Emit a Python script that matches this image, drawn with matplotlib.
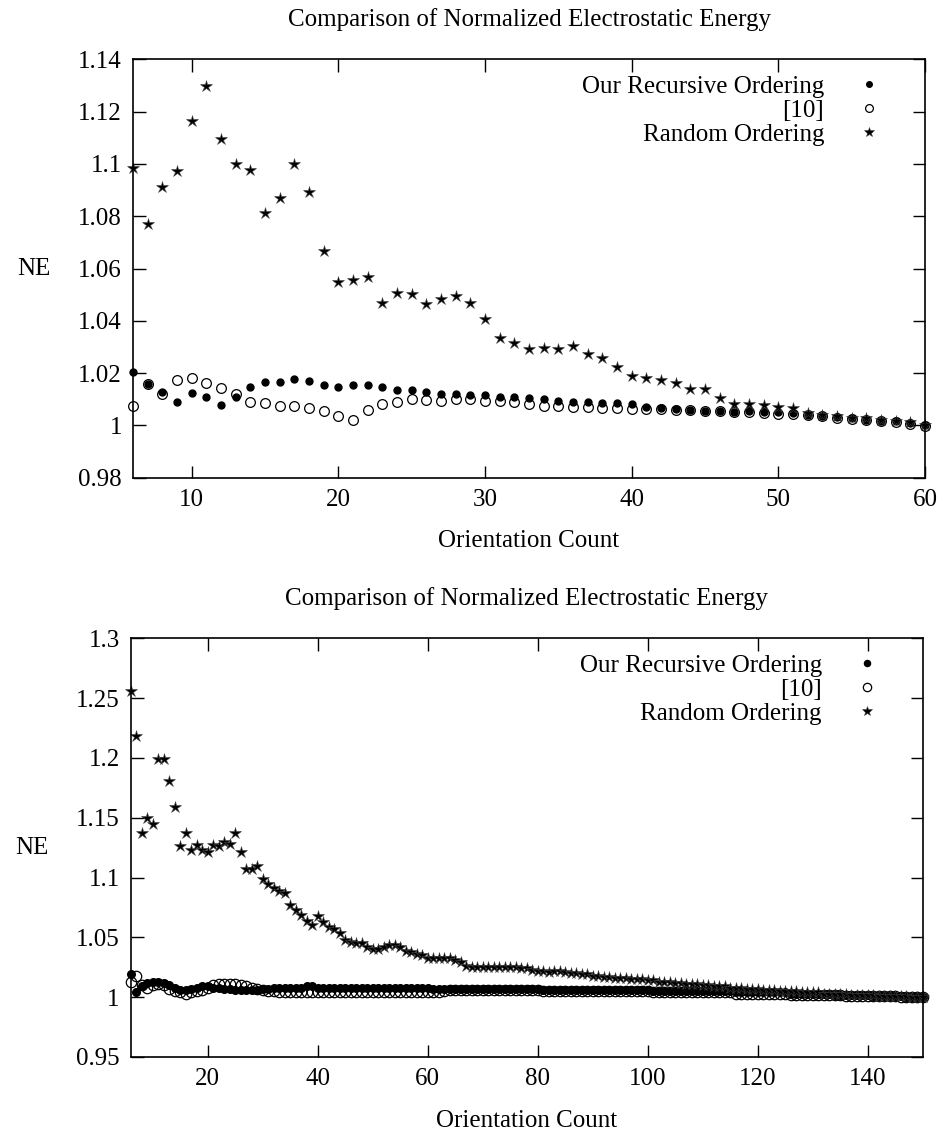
import matplotlib
matplotlib.use("Agg")
import matplotlib.pyplot as plt
import numpy as np

plt.rcParams["font.family"] = ["Liberation Serif", "DejaVu Serif"]
plt.rcParams["font.size"] = 18

TITLE = "Comparison of Normalized Electrostatic Energy"
LABELS = ["Our Recursive Ordering", "[10]", "Random Ordering"]

# ---------------------------------------------------------------------------
# top panel: orientation count 6..60
# ---------------------------------------------------------------------------
top_x = list(range(6, 61))
top_ours = [
    1.0205, 1.0157, 1.0129, 1.0091, 1.0125, 1.0110, 1.0078, 1.0110, 1.0148, 1.0167,
    1.0167, 1.0179, 1.0171, 1.0156, 1.0148, 1.0156, 1.0156, 1.0148, 1.0136, 1.0136,
    1.0129, 1.0121, 1.0121, 1.0117, 1.0117, 1.0110, 1.0107, 1.0106, 1.0101, 1.0093,
    1.0091, 1.0091, 1.0085, 1.0085, 1.0081, 1.0072, 1.0066, 1.0064, 1.0060, 1.0054,
    1.0056, 1.0051, 1.0054, 1.0051, 1.0050, 1.0047, 1.0041, 1.0037, 1.0032, 1.0028,
    1.0021, 1.0015, 1.0015, 1.0008, 1.0002,
]
top_ref10 = [
    1.0075, 1.0157, 1.0120, 1.0174, 1.0182, 1.0161, 1.0142, 1.0119, 1.0088, 1.0085,
    1.0075, 1.0075, 1.0068, 1.0055, 1.0037, 1.0021, 1.0059, 1.0081, 1.0088, 1.0100,
    1.0097, 1.0093, 1.0101, 1.0100, 1.0093, 1.0093, 1.0088, 1.0081, 1.0075, 1.0075,
    1.0071, 1.0071, 1.0068, 1.0068, 1.0064, 1.0062, 1.0062, 1.0060, 1.0058, 1.0054,
    1.0054, 1.0051, 1.0051, 1.0047, 1.0045, 1.0043, 1.0038, 1.0034, 1.0028, 1.0025,
    1.0021, 1.0015, 1.0013, 1.0006, 0.9999,
]
top_random = [
    1.0985, 1.0770, 1.0910, 1.0974, 1.1164, 1.1299, 1.1095, 1.0998, 1.0977, 1.0813,
    1.0871, 1.0999, 1.0894, 1.0666, 1.0550, 1.0556, 1.0569, 1.0469, 1.0505, 1.0501,
    1.0463, 1.0482, 1.0496, 1.0467, 1.0407, 1.0335, 1.0314, 1.0291, 1.0297, 1.0292,
    1.0303, 1.0272, 1.0259, 1.0224, 1.0189, 1.0182, 1.0174, 1.0163, 1.0138, 1.0138,
    1.0104, 1.0082, 1.0083, 1.0078, 1.0069, 1.0065, 1.0046, 1.0040, 1.0036, 1.0030,
    1.0027, 1.0021, 1.0017, 1.0012, 1.0000,
]
top_xticks = [10, 20, 30, 40, 50, 60]
top_yticks = [0.98, 1.0, 1.02, 1.04, 1.06, 1.08, 1.10, 1.12, 1.14]
top_ylabels = ["0.98", "1", "1.02", "1.04", "1.06", "1.08", "1.1", "1.12", "1.14"]

# ---------------------------------------------------------------------------
# bottom panel: orientation count 6..150
# ---------------------------------------------------------------------------
bot_x = list(range(6, 151))
bot_ours = [
    1.019, 1.004, 1.009, 1.012, 1.013, 1.013, 1.012, 1.010, 1.008, 1.006,
    1.006, 1.007, 1.008, 1.009, 1.009, 1.008, 1.008, 1.007, 1.007, 1.006,
    1.006, 1.006, 1.006, 1.006, 1.007, 1.007, 1.008, 1.008, 1.008, 1.008,
    1.008, 1.008, 1.009, 1.009, 1.008, 1.008, 1.008, 1.008, 1.008, 1.008,
    1.008, 1.008, 1.008, 1.008, 1.008, 1.008, 1.008, 1.008, 1.008, 1.008,
    1.008, 1.008, 1.008, 1.008, 1.008, 1.007, 1.007, 1.007, 1.007, 1.007,
    1.007, 1.007, 1.007, 1.007, 1.007, 1.007, 1.007, 1.007, 1.007, 1.007,
    1.007, 1.007, 1.007, 1.007, 1.007, 1.006, 1.006, 1.006, 1.006, 1.006,
    1.006, 1.006, 1.006, 1.006, 1.006, 1.006, 1.006, 1.006, 1.006, 1.006,
    1.006, 1.006, 1.006, 1.006, 1.006, 1.005, 1.005, 1.005, 1.005, 1.005,
    1.005, 1.005, 1.005, 1.005, 1.005, 1.005, 1.005, 1.005, 1.005, 1.005,
    1.004, 1.004, 1.004, 1.004, 1.004, 1.004, 1.004, 1.004, 1.004, 1.004,
    1.003, 1.003, 1.003, 1.003, 1.003, 1.003, 1.003, 1.003, 1.002, 1.002,
    1.002, 1.002, 1.002, 1.002, 1.002, 1.001, 1.001, 1.001, 1.001, 1.001,
    1.001, 1.000, 1.000, 1.000, 1.000,
]
bot_ref10 = [
    1.013, 1.018, 1.010, 1.008, 1.010, 1.011, 1.010, 1.007, 1.005, 1.004,
    1.003, 1.004, 1.005, 1.006, 1.008, 1.010, 1.011, 1.011, 1.011, 1.011,
    1.010, 1.009, 1.008, 1.007, 1.006, 1.005, 1.005, 1.004, 1.004, 1.004,
    1.004, 1.004, 1.004, 1.004, 1.004, 1.004, 1.004, 1.004, 1.004, 1.004,
    1.004, 1.004, 1.004, 1.004, 1.004, 1.004, 1.004, 1.004, 1.004, 1.004,
    1.004, 1.004, 1.004, 1.004, 1.004, 1.004, 1.004, 1.005, 1.006, 1.006,
    1.006, 1.006, 1.006, 1.006, 1.006, 1.006, 1.006, 1.006, 1.006, 1.006,
    1.006, 1.006, 1.006, 1.006, 1.006, 1.005, 1.005, 1.005, 1.005, 1.005,
    1.005, 1.005, 1.005, 1.005, 1.005, 1.005, 1.005, 1.005, 1.005, 1.005,
    1.005, 1.005, 1.005, 1.005, 1.005, 1.004, 1.004, 1.004, 1.004, 1.004,
    1.004, 1.004, 1.004, 1.004, 1.004, 1.004, 1.004, 1.004, 1.004, 1.004,
    1.003, 1.003, 1.003, 1.003, 1.003, 1.003, 1.003, 1.003, 1.003, 1.003,
    1.002, 1.002, 1.002, 1.002, 1.002, 1.002, 1.002, 1.002, 1.002, 1.002,
    1.001, 1.001, 1.001, 1.001, 1.001, 1.001, 1.001, 1.001, 1.001, 1.001,
    1.000, 1.000, 1.000, 1.000, 1.000,
]
bot_random = [
    1.256, 1.218, 1.137, 1.150, 1.145, 1.199, 1.199, 1.181, 1.159, 1.126,
    1.137, 1.123, 1.127, 1.123, 1.121, 1.127, 1.126, 1.130, 1.128, 1.137,
    1.121, 1.107, 1.107, 1.110, 1.099, 1.095, 1.091, 1.089, 1.087, 1.077,
    1.073, 1.069, 1.064, 1.060, 1.068, 1.063, 1.059, 1.057, 1.054, 1.048,
    1.046, 1.045, 1.045, 1.042, 1.040, 1.040, 1.042, 1.044, 1.044, 1.042,
    1.039, 1.038, 1.036, 1.035, 1.033, 1.033, 1.033, 1.033, 1.033, 1.031,
    1.029, 1.026, 1.025, 1.025, 1.025, 1.025, 1.025, 1.025, 1.025, 1.025,
    1.025, 1.024, 1.024, 1.023, 1.022, 1.022, 1.021, 1.022, 1.022, 1.021,
    1.020, 1.020, 1.019, 1.019, 1.018, 1.018, 1.017, 1.017, 1.016, 1.016,
    1.016, 1.015, 1.015, 1.015, 1.014, 1.014, 1.013, 1.013, 1.013, 1.012,
    1.012, 1.011, 1.011, 1.011, 1.010, 1.010, 1.009, 1.009, 1.009, 1.008,
    1.008, 1.008, 1.007, 1.007, 1.007, 1.006, 1.006, 1.006, 1.005, 1.005,
    1.005, 1.005, 1.004, 1.004, 1.004, 1.004, 1.003, 1.003, 1.003, 1.003,
    1.003, 1.002, 1.002, 1.002, 1.002, 1.002, 1.001, 1.001, 1.001, 1.001,
    1.001, 1.001, 1.000, 1.000, 1.000,
]
bot_xticks = [20, 40, 60, 80, 100, 120, 140]
bot_yticks = [0.95, 1.0, 1.05, 1.10, 1.15, 1.20, 1.25, 1.30]
bot_ylabels = ["0.95", "1", "1.05", "1.1", "1.15", "1.2", "1.25", "1.3"]


def draw_panel(ax, x, ours, ref10, rand, xlim, ylim, xticks, yticks, ylabels, msize):
    ax.plot(x, ours, linestyle="none", marker="o", markersize=msize[0],
            color="black", label=LABELS[0], clip_on=False)
    ax.plot(x, ref10, linestyle="none", marker="o", markersize=msize[1],
            markerfacecolor="none", markeredgecolor="black", markeredgewidth=0.9,
            label=LABELS[1], clip_on=False)
    ax.plot(x, rand, linestyle="none", marker="*", markersize=msize[2],
            markerfacecolor="black", markeredgecolor="#444444",
            markeredgewidth=0.4, label=LABELS[2], clip_on=False)

    ax.set_xlim(*xlim)
    ax.set_ylim(*ylim)
    ax.set_xticks(xticks)
    ax.set_yticks(yticks)
    ax.set_yticklabels(ylabels)
    ax.tick_params(direction="in", length=9, width=1.0, top=True, right=True,
                   labelsize=18, pad=8)
    for sp in ax.spines.values():
        sp.set_linewidth(1.2)

    ax.set_title(TITLE, fontsize=18, pad=24)
    ax.set_xlabel("Orientation Count", fontsize=18, labelpad=14)
    ax.set_ylabel("NE", fontsize=18, rotation=0, ha="center", va="center")
    ax.yaxis.set_label_coords(-0.125, 0.5)

    leg = ax.legend(loc="upper right", bbox_to_anchor=(0.958, 0.985),
                    markerfirst=False, frameon=False, handlelength=1.0,
                    handletextpad=1.3, labelspacing=0.05, fontsize=18,
                    borderaxespad=0.0, markerscale=0.8)
    return leg


fig = plt.figure(figsize=(9.46, 11.37), dpi=100)
ax_top = fig.add_axes([0.1406, 0.5799, 0.8372, 0.3679])
ax_bot = fig.add_axes([0.1382, 0.0704, 0.8372, 0.3682])

leg1 = draw_panel(ax_top, top_x, top_ours, top_ref10, top_random,
                  (6, 60), (0.98, 1.14), top_xticks, top_yticks, top_ylabels,
                  (5.0, 7.0, 9.0))
leg2 = draw_panel(ax_bot, bot_x, bot_ours, bot_ref10, bot_random,
                  (6, 150), (0.95, 1.30), bot_xticks, bot_yticks, bot_ylabels,
                  (5.5, 7.5, 9.0))

# right-align legend entries like gnuplot's key
for leg in (leg1, leg2):
    leg._legend_box.align = "right"

fig.savefig("out.png", dpi=100)
